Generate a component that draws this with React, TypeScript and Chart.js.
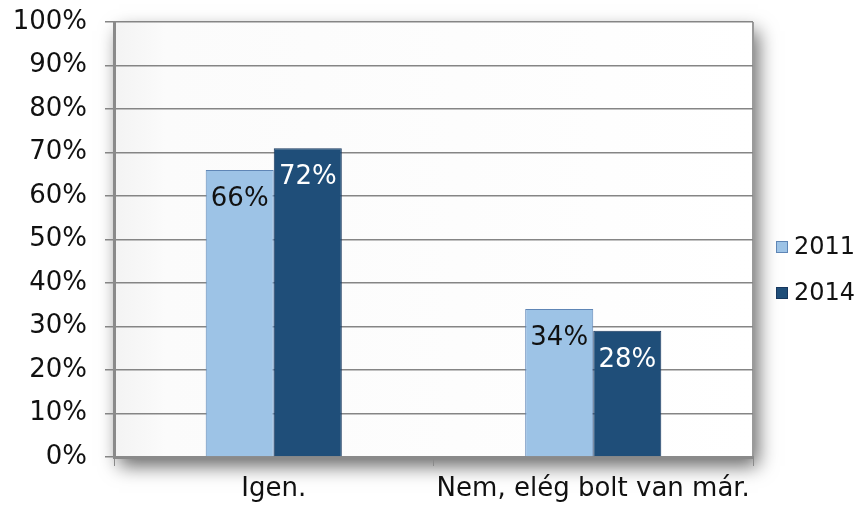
import React, { useEffect, useRef } from "react";
import { Chart, registerables } from "chart.js";

Chart.register(...registerables);

const categories = ["Igen.", "Nem, elég bolt van már."];
const seriesNames = ["2011", "2014"];
const values2011 = [66, 34];
const values2014 = [71, 29];
const labels2011 = ["66%", "34%"];
const labels2014 = ["72%", "28%"];
const yTicks = [0, 10, 20, 30, 40, 50, 60, 70, 80, 90, 100];

const FONT = "'DejaVu Sans', Verdana, sans-serif";
const LIGHT = "#9dc3e6";
const LIGHT_BORDER = "#5f86b6";
const DARK = "#1f4e79";
const DARK_BORDER = "#17375e";

export default function App() {
  const ref = useRef<HTMLCanvasElement>(null);
  useEffect(() => {
    const canvas = ref.current!;
    const shadowPlugin = {
      id: "plotShadow",
      beforeDraw(chart: any) {
        const { ctx, chartArea: a } = chart;
        ctx.save();
        ctx.shadowColor = "rgba(0,0,0,0.6)";
        ctx.shadowBlur = 18;
        ctx.shadowOffsetX = 5;
        ctx.shadowOffsetY = 9;
        ctx.fillStyle = "#fbfbfb";
        ctx.fillRect(a.left, a.top, a.right - a.left, a.bottom - a.top);
        ctx.restore();
        ctx.save();
        const g = ctx.createLinearGradient(a.left, 0, a.right, 0);
        g.addColorStop(0, "#f3f3f3");
        g.addColorStop(0.08, "#fbfbfb");
        g.addColorStop(1, "#ffffff");
        ctx.fillStyle = g;
        ctx.fillRect(a.left, a.top, a.right - a.left, a.bottom - a.top);
        ctx.strokeStyle = "#9a9a9a";
        ctx.lineWidth = 2;
        ctx.beginPath();
        ctx.moveTo(a.right, a.top);
        ctx.lineTo(a.right, a.bottom);
        ctx.stroke();
        ctx.restore();
      },
    };
    const labelPlugin = {
      id: "barLabels",
      afterDatasetsDraw(chart: any) {
        const { ctx } = chart;
        const texts = [labels2011, labels2014];
        const colors = ["#111111", "#ffffff"];
        ctx.save();
        ctx.font = `26px ${FONT}`;
        ctx.textAlign = "center";
        ctx.textBaseline = "middle";
        chart.data.datasets.forEach((_: any, di: number) => {
          const meta = chart.getDatasetMeta(di);
          meta.data.forEach((bar: any, i: number) => {
            ctx.fillStyle = colors[di];
            ctx.fillText(texts[di][i], bar.x, bar.y + 29);
          });
        });
        ctx.restore();
      },
    };
    const legendPlugin = {
      id: "customLegend",
      afterDraw(chart: any) {
        const { ctx } = chart;
        const fills = [LIGHT, DARK];
        const borders = [LIGHT_BORDER, DARK_BORDER];
        ctx.save();
        ctx.font = `24px ${FONT}`;
        ctx.textBaseline = "middle";
        ctx.textAlign = "left";
        seriesNames.forEach((name, i) => {
          const cy = 247 + i * 46;
          ctx.fillStyle = fills[i];
          ctx.fillRect(776, cy - 6, 12, 12);
          ctx.strokeStyle = borders[i];
          ctx.lineWidth = 1;
          ctx.strokeRect(776.5, cy - 5.5, 11, 11);
          ctx.fillStyle = "#111111";
          ctx.fillText(name, 794, cy + 1);
        });
        ctx.restore();
      },
    };
    const chart = new Chart(canvas, {
      type: "bar",
      data: {
        labels: categories,
        datasets: [
          {
            label: seriesNames[0],
            data: values2011,
            backgroundColor: LIGHT,
            borderColor: LIGHT_BORDER,
            borderWidth: 1,
            barPercentage: 1,
            categoryPercentage: 0.426,
          },
          {
            label: seriesNames[1],
            data: values2014,
            backgroundColor: DARK,
            borderColor: DARK_BORDER,
            borderWidth: 1,
            barPercentage: 1,
            categoryPercentage: 0.426,
          },
        ],
      },
      options: {
        responsive: false,
        animation: false,
        layout: { padding: { left: 0, right: 106, top: 22, bottom: 0 } },
        plugins: {
          legend: { display: false },
          tooltip: { enabled: false },
        },
        scales: {
          x: {
            grid: {
              offset: true,
              drawOnChartArea: false,
              drawTicks: true,
              tickLength: 9,
              color: "#8a8a8a",
            },
            border: { display: true, color: "#8a8a8a", width: 3 },
            ticks: {
              font: { family: FONT, size: 26 },
              color: "#111111",
              padding: 8,
              maxRotation: 0,
            },
            afterFit(scale: any) {
              scale.height = 49;
              scale.paddingLeft = 0;
              scale.paddingRight = 0;
            },
          },
          y: {
            min: 0,
            max: 100,
            afterBuildTicks(scale: any) {
              scale.ticks = yTicks.map((v) => ({ value: v }));
            },
            grid: {
              color: "#858585",
              lineWidth: 1.5,
              tickLength: 9,
            },
            border: { display: true, color: "#8a8a8a", width: 3 },
            ticks: {
              font: { family: FONT, size: 26 },
              color: "#111111",
              padding: 18,
              callback: (v: any) => `${v}%`,
            },
            afterFit(scale: any) {
              scale.width = 114;
              scale.paddingTop = 0;
              scale.paddingBottom = 0;
            },
          },
        },
      },
      plugins: [shadowPlugin, labelPlugin, legendPlugin],
    });
    return () => chart.destroy();
  }, []);
  return (
    <canvas
      ref={ref}
      width={859}
      height={506}
      style={{ position: "absolute", left: 0, top: 0 }}
    />
  );
}
